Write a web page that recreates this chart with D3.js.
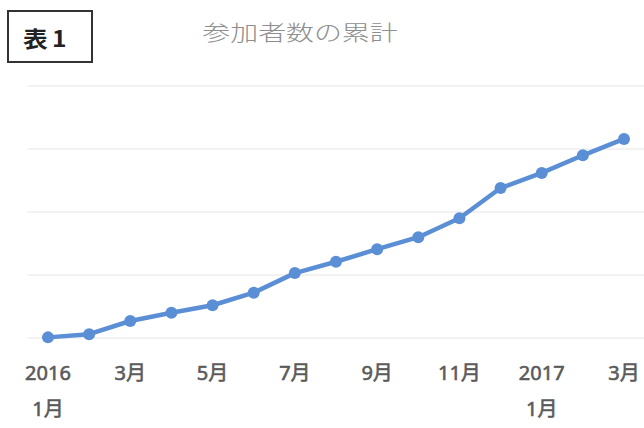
<!DOCTYPE html>
<html>
<head>
<meta charset="utf-8">
<script src="https://cdn.jsdelivr.net/npm/d3@7"></script>
<style>
  html, body { margin: 0; padding: 0; background: #fff; }
  svg { display: block; }
</style>
</head>
<body>
<svg id="chart" width="644" height="428"></svg>
<script>
// ---- data ----
const months = ["2016-01","2016-02","2016-03","2016-04","2016-05","2016-06","2016-07","2016-08","2016-09","2016-10","2016-11","2016-12","2017-01","2017-02","2017-03"];
const cumulative = [1, 6, 27, 40, 52, 72, 103, 121, 141, 160, 190, 238, 262, 290, 316];
const tickLine1 = ["2016","","3月","","5月","","7月","","9月","","11月","","2017","","3月"];
const tickLine2 = ["1月","","","","","","","","","","","","1月","",""];
const yTicks = [0, 100, 200, 300, 400];
const chartTitle = "参加者数の累計";
const boxLabel = "表1";

// ---- layout ----
const svg = d3.select("#chart");
const plotLeft = 27.4, plotRight = 644.6, plotTop = 86, plotBottom = 338;

const x = d3.scaleBand().domain(months).range([plotLeft, plotRight]);
const y = d3.scaleLinear().domain([0, 400]).range([plotBottom, plotTop]);

// gridlines
svg.append("g").selectAll("line").data(yTicks).join("line")
  .attr("x1", plotLeft).attr("x2", plotRight)
  .attr("y1", d => y(d)).attr("y2", d => y(d))
  .attr("stroke", "#e6e6e6").attr("stroke-width", 1.2);

// x-axis labels
const xAxis = svg.append("g")
  .attr("font-family", "'Noto Sans', 'Noto Sans CJK JP', sans-serif")
  .attr("font-size", 20).attr("fill", "#5a5a5a")
  .attr("stroke", "#5a5a5a").attr("stroke-width", 0.6)
  .attr("text-anchor", "middle");
months.forEach((m, i) => {
  const cx = x(m) + x.bandwidth() / 2;
  if (tickLine1[i]) xAxis.append("text").attr("x", cx).attr("y", 380).text(tickLine1[i]);
  if (tickLine2[i]) xAxis.append("text").attr("x", cx).attr("y", 416).text(tickLine2[i]);
});

// line
const line = d3.line()
  .x((d, i) => x(months[i]) + x.bandwidth() / 2)
  .y(d => y(d));
svg.append("path").datum(cumulative)
  .attr("d", line)
  .attr("fill", "none")
  .attr("stroke", "#5b8fd5")
  .attr("stroke-width", 4.5)
  .attr("stroke-linejoin", "round");

svg.append("g").selectAll("circle").data(cumulative).join("circle")
  .attr("cx", (d, i) => x(months[i]) + x.bandwidth() / 2)
  .attr("cy", d => y(d))
  .attr("r", 6)
  .attr("fill", "#5b8fd5");

// title (horizontally stretched as in the reference)
svg.append("text")
  .attr("transform", "translate(300,40) scale(1.33,1)")
  .attr("text-anchor", "middle")
  .attr("font-family", "'Noto Sans CJK JP', sans-serif")
  .attr("font-size", 21).attr("font-weight", 300).attr("fill", "#8e8e8e")
  .text(chartTitle);

// boxed label
svg.append("rect").attr("x", 8).attr("y", 11).attr("width", 84).attr("height", 51)
  .attr("fill", "none").attr("stroke", "#333").attr("stroke-width", 2);
svg.append("text")
  .attr("transform", "translate(47,47) scale(1.12,1)")
  .attr("text-anchor", "middle")
  .attr("font-family", "'Noto Sans CJK JP', sans-serif")
  .attr("font-size", 22).attr("font-weight", "bold").attr("fill", "#222")
  .attr("letter-spacing", 4)
  .text(boxLabel);
</script>
</body>
</html>
